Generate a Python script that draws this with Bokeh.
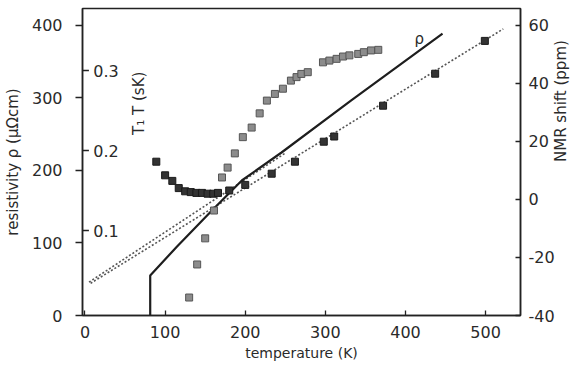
import math
from bokeh.plotting import figure
from bokeh.models import Range1d, LinearAxis, FixedTicker, Label
from bokeh.embed import file_html
from bokeh.resources import INLINE
from bokeh.core.properties import value

# ---- data ----
x_ticks = [0, 100, 200, 300, 400, 500]
rho_ticks = [0, 100, 200, 300, 400]
nmr_ticks = [-40, -20, 0, 20, 40, 60]
t1t_ticks = [0.1, 0.2, 0.3]
t1t_labels = ["0.1", "0.2", "0.3"]

# resistivity (solid line)
rho_T = [81.4, 81.4, 114.9, 158.4, 195.7, 245.3, 332.3, 446.2]
rho_val = [0, 55.2, 95.2, 144.8, 186.2, 224.8, 296.6, 388.6]

# linear extrapolation of resistivity (dotted)
rho_fit_T = [5, 250]
rho_fit_val = [46, 224]

# T1T (dark squares)
t1t_T = [89, 100, 109, 117, 125, 132, 139, 146, 153, 160, 166, 180, 200, 233, 262, 298, 311, 372, 437, 499]
t1t_val = [0.186, 0.169, 0.162, 0.153, 0.149, 0.148, 0.147, 0.147, 0.146, 0.146, 0.147, 0.150, 0.157,
           0.171, 0.186, 0.211, 0.2175, 0.256, 0.296, 0.337]

# linear fit of T1T (dotted)
t1t_fit_T = [7, 522]
t1t_fit_val = [0.034, 0.352]

# NMR shift (grey squares)
nmr_T = [130, 140, 150, 161, 171, 178, 187, 197, 208, 218, 227, 237, 247, 257, 264, 270, 278,
         297, 305, 314, 322, 330, 341, 348, 357, 366]
nmr_val = [-33.8, -22.4, -13.4, -3.8, 7.6, 11.0, 15.9, 21.5, 24.8, 29.7, 34.1, 36.4, 38.2, 41.0,
           42.2, 43.3, 43.9, 47.3, 47.9, 48.5, 49.3, 49.7, 50.2, 50.8, 51.4, 51.6]

FONT = "DejaVu Sans"
TXT = "#2a2a2a"

x_lo, x_hi = -3.1, 543.5
p = figure(width=581, height=365, output_backend="svg", toolbar_location=None,
           x_range=Range1d(x_lo, x_hi), y_range=Range1d(0, 423.4),
           min_border_left=80, min_border_right=61, min_border_top=8, min_border_bottom=50,
           background_fill_color="white", border_fill_color="white")
p.extra_y_ranges = {"nmr": Range1d(-40, 65.86), "t1t": Range1d(-0.00625, 0.37750)}
p.grid.visible = False
p.outline_line_color = "#222222"
p.outline_line_width = 1.5

def style_axis(ax, label, tin, tout, lsize, standoff, lstandoff):
    ax.axis_label = label
    ax.axis_label_text_font = FONT
    ax.axis_label_text_font_size = lsize
    ax.axis_label_text_font_style = "normal"
    ax.axis_label_text_color = TXT
    ax.axis_label_standoff = lstandoff
    ax.major_label_text_font = FONT
    ax.major_label_text_font_size = "16px"
    ax.major_label_text_color = TXT
    ax.major_label_standoff = standoff
    ax.major_tick_in = tin
    ax.major_tick_out = tout
    ax.minor_tick_line_color = None
    ax.major_tick_line_color = "#222222"
    ax.major_tick_line_width = 1.3
    ax.axis_line_color = "#222222"
    ax.axis_line_width = 1.5

p.xaxis.ticker = FixedTicker(ticks=x_ticks)
style_axis(p.xaxis[0], "temperature (K)", 5, 0, "14px", 10, 4)
p.yaxis.ticker = FixedTicker(ticks=rho_ticks)
style_axis(p.yaxis[0], "resistivity ρ (μΩcm)", 0, 7, "15px", 13, 7)

ax_r = LinearAxis(y_range_name="nmr", ticker=FixedTicker(ticks=nmr_ticks))
style_axis(ax_r, "NMR shift (ppm)", 5, 0, "15px", 8, 3)
ax_r.major_label_overrides = {-40: "-40", -20: "-20"}
try:
    ax_r.axis_label_orientation = math.pi / 2
except Exception:
    pass
p.add_layout(ax_r, "right")

# inner T1T axis (ticks + labels drawn inside the frame)
p.segment(x0=[x_lo] * len(t1t_ticks), y0=t1t_ticks, x1=[x_lo + 8] * len(t1t_ticks), y1=t1t_ticks,
          y_range_name="t1t", line_color="#222222", line_width=1.3)
p.text(x=[x_lo + 13.5] * len(t1t_ticks), y=t1t_ticks, text=t1t_labels, y_range_name="t1t",
       text_font=value(FONT), text_font_size="16px", text_color=TXT,
       text_align="left", text_baseline="middle")
p.text(x=[67], y=[0.259], text=["T₁ T (sK)"], y_range_name="t1t", angle=math.pi / 2,
       text_font=value(FONT), text_font_size="15px", text_color=TXT,
       text_align="center", text_baseline="middle")

# fits (dotted)
p.line(rho_fit_T, rho_fit_val, line_color="#555555", line_width=1.6, line_dash="2 2")
p.line(t1t_fit_T, t1t_fit_val, y_range_name="t1t", line_color="#555555", line_width=1.6, line_dash="2 2")

# resistivity
p.line(rho_T, rho_val, line_color="#1e1e1e", line_width=2.2)
p.add_layout(Label(x=rho_T[-1] - 29, y=rho_val[-1] - 7, text="ρ", text_font=FONT,
                   text_font_size="15px", text_color=TXT, text_align="center", text_baseline="middle"))

# NMR shift (grey squares)
p.scatter(nmr_T, nmr_val, y_range_name="nmr", marker="square", size=7,
          fill_color="#8c8c8c", line_color="#555555", line_width=1)

# T1T (dark squares)
p.scatter(t1t_T, t1t_val, y_range_name="t1t", marker="square", size=7,
          fill_color="#333333", line_color="#1a1a1a", line_width=1)

open("out.html", "w").write(file_html(p, INLINE))
